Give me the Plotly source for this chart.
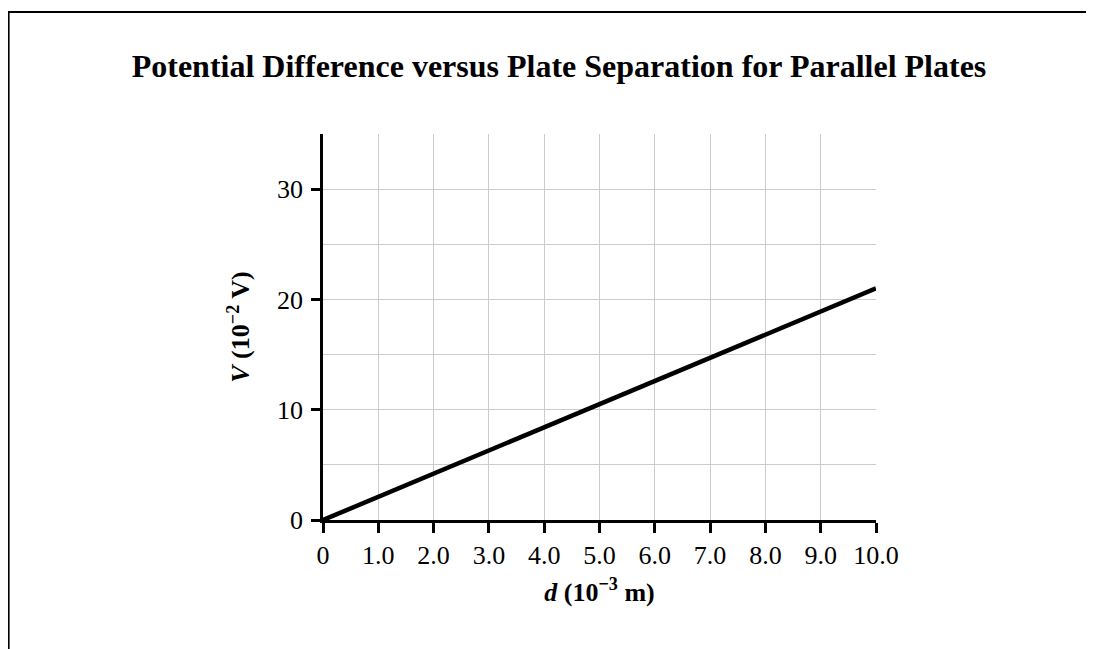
import plotly.graph_objects as go

d_vals = [0.0, 10.0]
v_vals = [0.0, 21.0]
x_ticks = [0, 1, 2, 3, 4, 5, 6, 7, 8, 9, 10]
x_ticktext = ["0", "1.0", "2.0", "3.0", "4.0", "5.0", "6.0", "7.0", "8.0", "9.0", "10.0"]
y_ticks = [0, 10, 20, 30]
y_ticktext = ["0", "10", "20", "30"]
y_minor = [5, 15, 25, 35]

FONT = "Liberation Serif"
W, H = 1094, 649
L, R, T, B = 315, 226, 126, 137
PW, PH = W - L - R, H - T - B

fig = go.Figure()
fig.add_trace(go.Scatter(x=d_vals, y=v_vals, mode="lines",
                         line=dict(color="black", width=4.5), hoverinfo="skip",
                         showlegend=False, cliponaxis=False))

fig.update_layout(
    width=W, height=H,
    margin=dict(l=L, r=R, t=T, b=B),
    paper_bgcolor="white", plot_bgcolor="white",
    font=dict(family=FONT, color="black", size=26),
    title=dict(text="<b>Potential Difference versus Plate Separation for Parallel Plates</b>",
               x=551 / W, xanchor="center", y=1 - 58 / H, yanchor="middle",
               font=dict(family=FONT, size=32, color="black")),
    showlegend=False,
)
fig.update_xaxes(
    range=[0, 10], tickvals=x_ticks, ticktext=x_ticktext,
    showline=True, linecolor="black", linewidth=2.5,
    ticks="outside", ticklen=10, tickwidth=2.5, tickcolor="black",
    showgrid=True, gridcolor="#cccccc", gridwidth=1, zeroline=False,
    tickfont=dict(family=FONT, size=26, color="black"),
    title=dict(text="<b><i>d</i> (10<sup>−3</sup> m)</b>", standoff=14,
               font=dict(family=FONT, size=26, color="black")),
    fixedrange=True,
)
fig.update_yaxes(
    range=[0, 35], tickvals=y_ticks, ticktext=y_ticktext,
    showline=True, linecolor="black", linewidth=2.5,
    ticks="outside", ticklen=9, tickwidth=2.5, tickcolor="black",
    showgrid=True, gridcolor="#cccccc", gridwidth=1, zeroline=False,
    minor=dict(tickvals=y_minor, showgrid=True, gridcolor="#cccccc", gridwidth=1, ticks=""),
    tickfont=dict(family=FONT, size=26, color="black"),
    ticklabelstandoff=3,
    title=dict(text="<b><i>V</i> (10<sup>−2</sup> V)</b>", standoff=20,
               font=dict(family=FONT, size=26, color="black")),
    fixedrange=True,
)

# outer frame of the figure (extends beyond the visible page on right/bottom)
fig.add_shape(type="rect", xref="paper", yref="paper",
              x0=(0.5 - L) / PW, x1=(W + 30 - L) / PW,
              y0=(T + PH - (H + 30)) / PH, y1=(T + PH - 4) / PH,
              line=dict(color="black", width=2.2), fillcolor="rgba(0,0,0,0)", layer="above")

fig.write_html("out.html")
